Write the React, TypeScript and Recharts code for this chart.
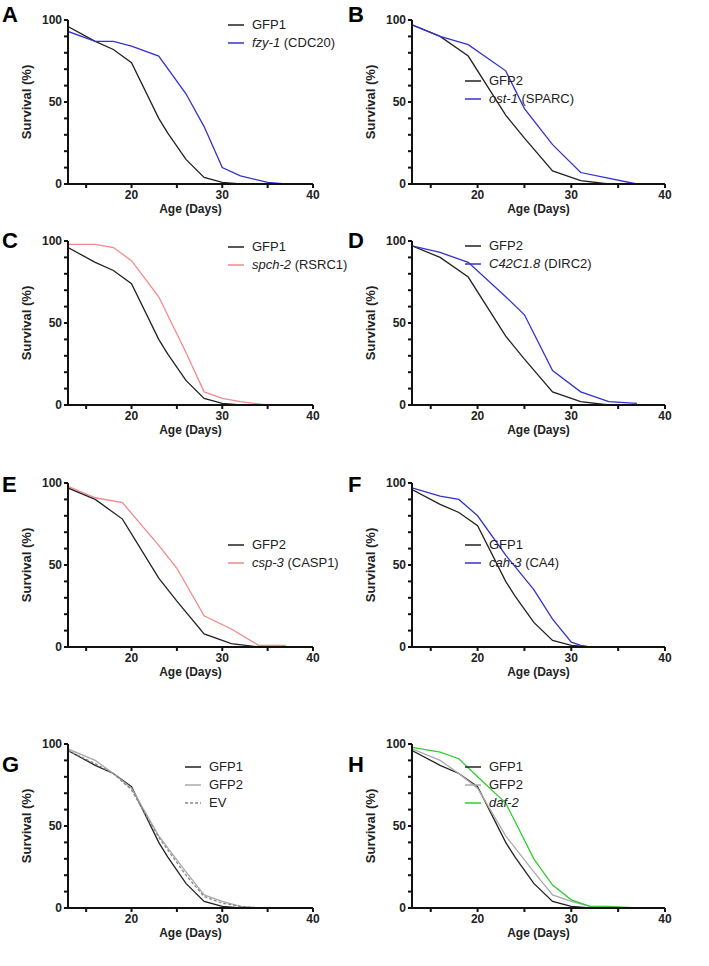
import React from "react";
import { LineChart, Line, XAxis, YAxis } from "recharts";

type P = { x: number; y: number };
const mk = (xs: number[], ys: number[]): P[] => xs.map((x, i) => ({ x, y: ys[i] }));

const gfp1A = mk([13, 16, 18, 20, 23, 24, 26, 28, 30, 32], [96, 87, 82, 74, 40, 31, 15, 4, 1, 0]);
const fzy1 = mk([13, 16, 18, 20, 23, 26, 28, 30, 32, 35, 37], [93, 87, 87, 84, 78, 55, 35, 10, 5, 1, 0]);
const gfp2 = mk([13, 16, 19, 23, 25, 28, 31, 34], [97, 90, 78, 42, 28, 8, 2, 0]);
const ost1 = mk([13, 16, 19, 23, 25, 28, 31, 37], [97, 90, 85, 69, 46, 24, 7, 0]);
const spch2 = mk([13, 16, 18, 20, 23, 26, 28, 30, 32, 35], [98, 98, 96, 88, 66, 32, 8, 4, 2, 0]);
const c42 = mk([13, 16, 19, 23, 25, 28, 31, 34, 37], [97, 93, 87, 66, 55, 21, 8, 2, 1]);
const csp3 = mk([13, 16, 19, 23, 25, 28, 31, 34, 37], [98, 91, 88, 62, 48, 19, 11, 1, 1]);
const cah3 = mk([13, 16, 18, 20, 23, 26, 28, 30, 31, 32], [97, 92, 90, 80, 56, 35, 17, 3, 1, 0]);
const ev = mk([13, 16, 18, 20, 23, 26, 28, 30, 32, 34], [96, 88, 82, 72, 43, 20, 7, 3, 1, 0]);
const gfp2G = mk([13, 16, 18, 20, 23, 26, 28, 30, 32, 34], [97, 90, 82, 73, 44, 22, 8, 4, 1, 0]);
const daf2 = mk([13, 16, 18, 20, 23, 26, 28, 30, 32, 34, 37], [98, 95, 91, 80, 64, 30, 14, 5, 1, 1, 0]);

const xTicks = [15, 20, 25, 30, 35, 40];
const yTicks = [0, 10, 20, 30, 40, 50, 60, 70, 80, 90, 100];

type S = { data: P[]; color: string; name: string; italic?: string; dash?: boolean };
const BLUE = "#3333cc", PINK = "#f08a8a", GRAY = "#aaaaaa", GREEN = "#33cc33", BLACK = "#222";

const panels: { letter: string; series: S[]; leg: [number, number] }[] = [
  { letter: "A", leg: [226, 25], series: [{ data: gfp1A, color: BLACK, name: "GFP1" }, { data: fzy1, color: BLUE, italic: "fzy-1", name: " (CDC20)" }] },
  { letter: "B", leg: [463, 81], series: [{ data: gfp2, color: BLACK, name: "GFP2" }, { data: ost1, color: BLUE, italic: "ost-1", name: " (SPARC)" }] },
  { letter: "C", leg: [226, 247], series: [{ data: gfp1A, color: BLACK, name: "GFP1" }, { data: spch2, color: PINK, italic: "spch-2", name: " (RSRC1)" }] },
  { letter: "D", leg: [463, 246], series: [{ data: gfp2, color: BLACK, name: "GFP2" }, { data: c42, color: BLUE, italic: "C42C1.8", name: " (DIRC2)" }] },
  { letter: "E", leg: [226, 545], series: [{ data: gfp2, color: BLACK, name: "GFP2" }, { data: csp3, color: PINK, italic: "csp-3", name: " (CASP1)" }] },
  { letter: "F", leg: [463, 545], series: [{ data: gfp1A, color: BLACK, name: "GFP1" }, { data: cah3, color: BLUE, italic: "cah-3", name: " (CA4)" }] },
  { letter: "G", leg: [183, 767], series: [{ data: gfp1A, color: BLACK, name: "GFP1" }, { data: gfp2G, color: GRAY, name: "GFP2" }, { data: ev, color: "#888", name: "EV", dash: true }] },
  { letter: "H", leg: [463, 767], series: [{ data: gfp1A, color: BLACK, name: "GFP1" }, { data: gfp2G, color: GRAY, name: "GFP2" }, { data: daf2, color: GREEN, italic: "daf-2", name: "" }] },
];

const rowTop = [20, 241, 483, 744];
const letterTop = [2, 228, 472, 752];
const font = "Liberation Sans, Arial, sans-serif";

function Panel({ idx }: { idx: number }) {
  const p = panels[idx];
  const col = idx % 2, row = Math.floor(idx / 2);
  const left = col === 0 ? 0 : 354;
  const plotLeft = col === 0 ? 68 : 412;
  const plotRight = col === 0 ? 313 : 665;
  const top = rowTop[row] - 10;
  return (
    <>
      <div style={{ position: "absolute", left, top, width: 355, height: 230 }}>
        <LineChart width={355} height={230} data={p.series[0].data}
          margin={{ left: plotLeft - left - 40, right: 355 - (plotRight - left), top: 10, bottom: 26 }}>
          <XAxis type="number" dataKey="x" domain={[13, 40]} ticks={xTicks} allowDataOverflow
            tickFormatter={(v) => (v % 10 === 0 ? String(v) : "")}
            stroke="#111" strokeWidth={2} tickSize={4}
            tick={{ fill: "#222", fontSize: 12, fontWeight: 700, fontFamily: font }} />
          <YAxis type="number" domain={[0, 100]} ticks={yTicks} width={40}
            tickFormatter={(v) => (v % 50 === 0 ? String(v) : "")}
            stroke="#111" strokeWidth={2} tickSize={4}
            tick={{ fill: "#222", fontSize: 12, fontWeight: 700, fontFamily: font }}
            label={{ value: "Survival (%)", angle: -90, position: "insideLeft", offset: 0, dx: -2, fill: "#222", fontSize: 13, fontWeight: 700, fontFamily: font, style: { textAnchor: "middle" } }} />
          {p.series.map((s, i) => (
            <Line key={i} data={s.data} dataKey="y" type="linear" stroke={s.color} strokeWidth={1.3}
              strokeDasharray={s.dash ? "3 2" : undefined} dot={false} isAnimationActive={false} />
          ))}
        </LineChart>
      </div>
      <div style={{ position: "absolute", left: plotLeft, width: plotRight - plotLeft, textAlign: "center", top: rowTop[row] + 182, fontFamily: font, fontWeight: 700, fontSize: 12, color: "#222" }}>Age (Days)</div>
      <div style={{ position: "absolute", left: col === 0 ? 2 : 348, top: letterTop[row], fontFamily: font, fontWeight: 700, fontSize: 22 }}>{p.letter}</div>
      {p.series.map((s, i) => (
        <div key={i} style={{ position: "absolute", left: p.leg[0], top: p.leg[1] + i * 18 - 8, fontFamily: font, fontSize: 13, color: "#222", display: "flex", alignItems: "center", whiteSpace: "pre" }}>
          <svg width={20} height={6} style={{ marginRight: 6 }}>
            <line x1={2} y1={3} x2={18} y2={3} stroke={s.color} strokeWidth={1.5} strokeDasharray={s.dash ? "3 2" : undefined} />
          </svg>
          {s.italic && <i>{s.italic}</i>}
          <span>{s.name}</span>
        </div>
      ))}
    </>
  );
}

export default function App() {
  return (
    <div style={{ position: "absolute", left: 0, top: 0, width: 709, height: 966, background: "#fff" }}>
      {panels.map((_, i) => <Panel key={i} idx={i} />)}
    </div>
  );
}
